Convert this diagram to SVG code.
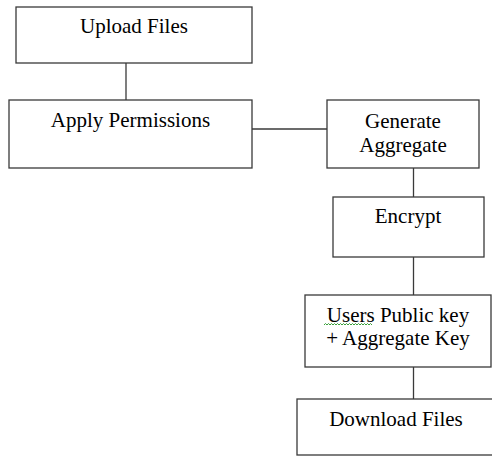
<svg xmlns="http://www.w3.org/2000/svg" width="492" height="456" viewBox="0 0 492 456">
  <style>
    .box { fill: #ffffff; stroke: #3a3a3a; stroke-width: 1.3; }
    .link { stroke: #3a3a3a; stroke-width: 1.3; fill: none; }
    .label { font-family: "Liberation Serif", "Times New Roman", serif; font-size: 21px; fill: #000000; text-anchor: middle; }
    .squiggle { stroke: #3aa03a; stroke-width: 1; fill: none; }
  </style>
  <rect width="492" height="456" fill="#ffffff"/>

  <!-- connectors -->
  <g id="connectors">
    <line class="link" x1="126" y1="63" x2="126" y2="100"/>
    <line class="link" x1="252" y1="129" x2="327" y2="129"/>
    <line class="link" x1="413.5" y1="168" x2="413.5" y2="197"/>
    <line class="link" x1="413.5" y1="257" x2="413.5" y2="295"/>
    <line class="link" x1="413.5" y1="367" x2="413.5" y2="399"/>
  </g>

  <g id="upload-files">
    <rect class="box" x="16" y="7" width="236" height="56"/>
    <text class="label" x="134" y="33">Upload Files</text>
  </g>

  <g id="apply-permissions">
    <rect class="box" x="9" y="100" width="243" height="68"/>
    <text class="label" x="130.5" y="127">Apply Permissions</text>
  </g>

  <g id="generate-aggregate">
    <rect class="box" x="327" y="100" width="152" height="68"/>
    <text class="label" x="403" y="127.5">Generate</text>
    <text class="label" x="403" y="152">Aggregate</text>
  </g>

  <g id="encrypt">
    <rect class="box" x="333" y="197" width="151" height="60"/>
    <text class="label" x="408" y="223">Encrypt</text>
  </g>

  <g id="users-key">
    <rect class="box" x="305" y="295" width="186" height="72"/>
    <text class="label" x="398" y="322">Users Public key</text>
    <text class="label" x="398" y="345">+ Aggregate Key</text>
    <!-- spell-check underline -->
    <path class="squiggle" d="M324 325 l1.5 -1.5 l1.5 1.5 l1.5 -1.5 l1.5 1.5 l1.5 -1.5 l1.5 1.5 l1.5 -1.5 l1.5 1.5 l1.5 -1.5 l1.5 1.5 l1.5 -1.5 l1.5 1.5 l1.5 -1.5 l1.5 1.5 l1.5 -1.5 l1.5 1.5 l1.5 -1.5 l1.5 1.5 l1.5 -1.5 l1.5 1.5 l1.5 -1.5 l1.5 1.5 l1.5 -1.5 l1.5 1.5 l1.5 -1.5 l1.5 1.5 l1.5 -1.5 l1.5 1.5 l1.5 -1.5 l1.5 1.5 l1.5 -1.5 l1.5 1.5"/>
  </g>

  <g id="download-files">
    <rect class="box" x="297" y="399" width="200" height="56"/>
    <text class="label" x="396" y="426">Download Files</text>
  </g>
</svg>
